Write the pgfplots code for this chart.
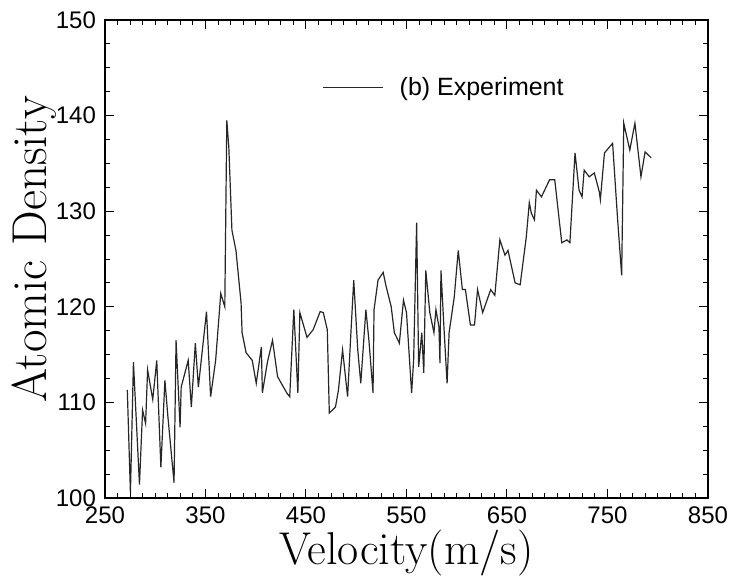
\documentclass[border=0pt]{standalone}
\usepackage{fontspec}
\usepackage{pgfplots}
\pgfplotsset{compat=1.18}
\newfontfamily\tickfont{Liberation Sans}
\begin{document}
\begin{tikzpicture}
\useasboundingbox (-52.5pt,-41pt) rectangle (312pt,249pt);
\begin{axis}[
  name=ax, at={(0,0)}, anchor=south west,
  width=301.5pt, height=239pt, scale only axis,
  xmin=250, xmax=850, ymin=100, ymax=150,
  xtick={250,350,...,850}, ytick={100,110,...,150},
  minor x tick num=7, minor y tick num=3,
  major tick length=4.5pt, minor tick length=2.5pt,
  tick style={black, line width=0.5pt},
  axis line style={line width=0.7pt},
  /pgf/number format/assume math mode=true,
  /pgf/number format/1000 sep={},
  ticklabel style={font=\tickfont\fontsize{12}{14}\selectfont},
  yticklabel style={xshift=-1pt},
  xticklabel style={yshift=-1pt},
  xlabel={Velocity(m/s)},
  ylabel={Atomic Density},
  xlabel style={font=\fontsize{23}{26}\selectfont, inner sep=0pt, at={(axis description cs:0.5,-0.115)}, anchor=center},
  ylabel style={font=\fontsize{24.5}{27}\selectfont, inner sep=0pt, at={(axis description cs:-0.118,0.52)}, anchor=center},
  legend style={at={(0.36,0.858)}, anchor=west, draw=none, fill=none,
    font=\tickfont\fontsize{12.5}{14}\selectfont, inner sep=0pt},
  legend cell align=left,
  legend image code/.code={\draw[#1] (0pt,0pt) -- (30pt,0pt);},
]
\addplot[black!85, line width=0.6pt] table {
272.2 111.3
275.3 100.5
278.3 114.2
284.3 101.4
287.4 109.2
290.4 107.8
292.4 113.4
297.5 110.3
301.5 114.4
305.6 103.2
309.6 112.3
312.6 108.5
318.7 101.6
320.7 116.5
324.7 107.4
325.8 111.6
332.8 114.4
335.9 109.5
339.9 116.2
342.9 111.6
351.0 119.5
355.1 110.6
360.1 114.4
365.2 121.4
369.2 120.0
371.2 139.5
373.2 136.7
376.3 128.0
380.3 125.9
385.4 120.4
386.4 117.3
390.4 115.2
396.5 114.4
400.5 112.0
405.6 115.8
406.6 111.0
411.6 114.2
416.7 116.5
421.7 112.7
430.8 111.0
433.8 110.6
437.9 119.7
441.9 111.0
443.9 119.4
451.0 116.8
457.1 117.6
464.1 119.5
467.2 119.4
471.2 117.6
473.2 108.9
479.3 109.5
482.3 111.3
486.4 115.5
491.4 110.6
494.4 116.7
497.5 122.8
501.5 115.5
504.5 112.0
509.6 119.7
512.6 116.5
516.7 111.0
517.7 119.7
521.7 122.8
526.8 123.6
529.8 122.1
534.8 120.0
537.9 117.3
542.9 116.2
547.0 120.7
550.0 119.4
555.1 111.0
557.1 114.4
560.1 128.8
562.1 113.7
565.2 117.3
567.2 113.1
569.2 123.8
573.2 119.4
577.3 117.3
579.3 119.7
582.3 117.9
583.3 114.1
584.3 123.8
587.4 117.6
590.4 112.0
592.4 117.3
597.5 121.0
601.5 125.9
605.6 121.8
608.6 121.8
613.6 118.1
617.7 118.1
620.7 121.8
625.8 119.4
633.8 121.8
637.9 121.2
642.9 127.0
648.0 125.4
651.0 125.9
658.1 122.5
663.1 122.3
669.2 127.3
672.2 130.9
674.2 129.8
677.3 129.1
679.3 132.2
684.3 131.5
692.4 133.3
697.5 133.3
704.5 126.7
709.6 127.0
712.6 126.7
717.7 136.1
721.7 132.2
724.7 131.5
726.8 134.3
731.8 133.6
736.9 134.0
741.9 132.0
742.9 131.2
747.0 136.1
755.1 137.1
760.1 129.1
764.1 123.3
766.2 139.2
772.2 136.4
777.3 139.2
783.3 133.6
787.4 136.2
793.4 135.6
};
\addlegendentry{\hspace{6pt}(b) Experiment}
\end{axis}
\end{tikzpicture}
\end{document}
